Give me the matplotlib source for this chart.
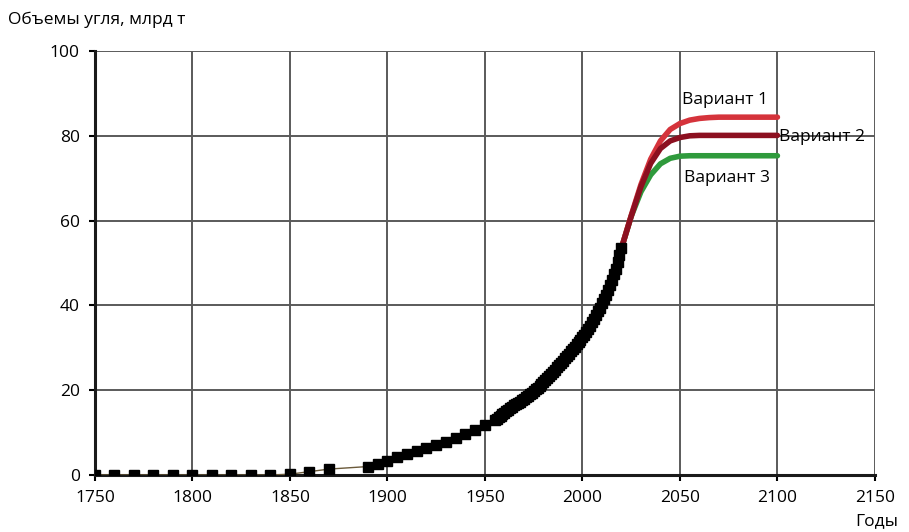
import matplotlib
matplotlib.use("Agg")
import matplotlib.pyplot as plt

plt.rcParams['font.family'] = ['Open Sans', 'DejaVu Sans']

# historical coal volumes (black squares)
hist_years = [1750, 1760, 1770, 1780, 1790, 1800, 1810, 1820, 1830, 1840, 1850, 1860, 1870,
              1890, 1895, 1900, 1905, 1910, 1915, 1920, 1925, 1930, 1935, 1940, 1945, 1950, 1955,
              1956, 1957, 1958, 1959, 1960, 1961, 1962, 1963, 1964, 1965, 1966, 1967, 1968, 1969,
              1970, 1971, 1972, 1973, 1974, 1975, 1976, 1977, 1978, 1979, 1980, 1981, 1982, 1983,
              1984, 1985, 1986, 1987, 1988, 1989, 1990, 1991, 1992, 1993, 1994, 1995, 1996, 1997,
              1998, 1999, 2000, 2001, 2002, 2003, 2004, 2005, 2006, 2007, 2008, 2009, 2010, 2011,
              2012, 2013, 2014, 2015, 2016, 2017, 2018, 2019, 2020]
hist_vals = [0, 0, 0, 0, 0, 0, 0, 0, 0, 0, 0.2, 0.8, 1.4,
             2.0, 2.6, 3.4, 4.2, 4.9, 5.6, 6.3, 7.1, 7.9, 8.7, 9.6, 10.7, 11.8, 13.0,
             13.3, 13.6, 13.9, 14.3, 14.7, 15.0, 15.4, 15.7, 16.1, 16.4, 16.7, 17.0, 17.3, 17.7,
             18.0, 18.4, 18.7, 19.1, 19.4, 19.8, 20.2, 20.6, 21.0, 21.5, 22.0, 22.4, 22.9, 23.4,
             23.8, 24.3, 24.8, 25.4, 25.9, 26.5, 27.0, 27.5, 28.1, 28.6, 29.2, 29.8, 30.3, 30.8,
             31.4, 31.9, 32.5, 33.1, 33.8, 34.4, 35.2, 36.0, 36.8, 37.7, 38.6, 39.5, 40.5, 41.5,
             42.5, 43.6, 44.8, 46.0, 47.3, 48.7, 50.2, 51.8, 53.5]

# forecast variants
var_years = [2020, 2025, 2030, 2035, 2040, 2045, 2050, 2055, 2060, 2065, 2070, 2080, 2090, 2100]
var1 = [53.5, 61.2, 68.5, 74.5, 78.8, 81.5, 82.9, 83.7, 84.1, 84.3, 84.4, 84.4, 84.4, 84.4]
var2 = [53.5, 61.0, 68.0, 73.5, 77.0, 78.8, 79.6, 80.0, 80.1, 80.1, 80.1, 80.1, 80.1, 80.1]
var3 = [53.5, 61.0, 66.8, 70.8, 73.4, 74.7, 75.2, 75.3, 75.3, 75.3, 75.3, 75.3, 75.3, 75.3]

fig = plt.figure(figsize=(9.09, 5.32), dpi=100)
ax = fig.add_axes([0.1045, 0.1071, 0.858, 0.797])

ax.plot(var_years, var3, color='#2f9a3c', lw=4, solid_capstyle='round', zorder=3)
ax.plot(var_years, var1, color='#d5333b', lw=4, solid_capstyle='round', zorder=4)
ax.plot(var_years, var2, color='#8c1020', lw=4, solid_capstyle='round', zorder=5)
ax.plot(hist_years, hist_vals, color='#6b5a3a', lw=1.0, marker='s', ms=6.5,
        mfc='black', mec='black', zorder=6)

ax.text(2073, 88.4, 'Вариант 1', fontsize=12.5, ha='center', va='center')
ax.text(2123, 79.7, 'Вариант 2', fontsize=12.5, ha='center', va='center')
ax.text(2074, 70.0, 'Вариант 3', fontsize=12.5, ha='center', va='center')

ax.set_xlim(1750, 2150)
ax.set_ylim(0, 100)
ax.set_xticks(range(1750, 2151, 50))
ax.set_yticks(range(0, 101, 20))
ax.tick_params(labelsize=12.5, length=4, width=1.5, colors='black', pad=7)
ax.grid(True, color='#5a5a5a', lw=1.4)
ax.set_axisbelow(True)
for s in ['top', 'right']:
    ax.spines[s].set_visible(False)
for s in ['left', 'bottom']:
    ax.spines[s].set_linewidth(2.2)
    ax.spines[s].set_color('#1a1a1a')

fig.text(8 / 909, 1 - 20 / 532, 'Объемы угля, млрд т', fontsize=12.5, ha='left', va='center')
fig.text(898 / 909, 1 - 521 / 532, 'Годы', fontsize=12.5, ha='right', va='center')

fig.savefig('out.png', dpi=100)
